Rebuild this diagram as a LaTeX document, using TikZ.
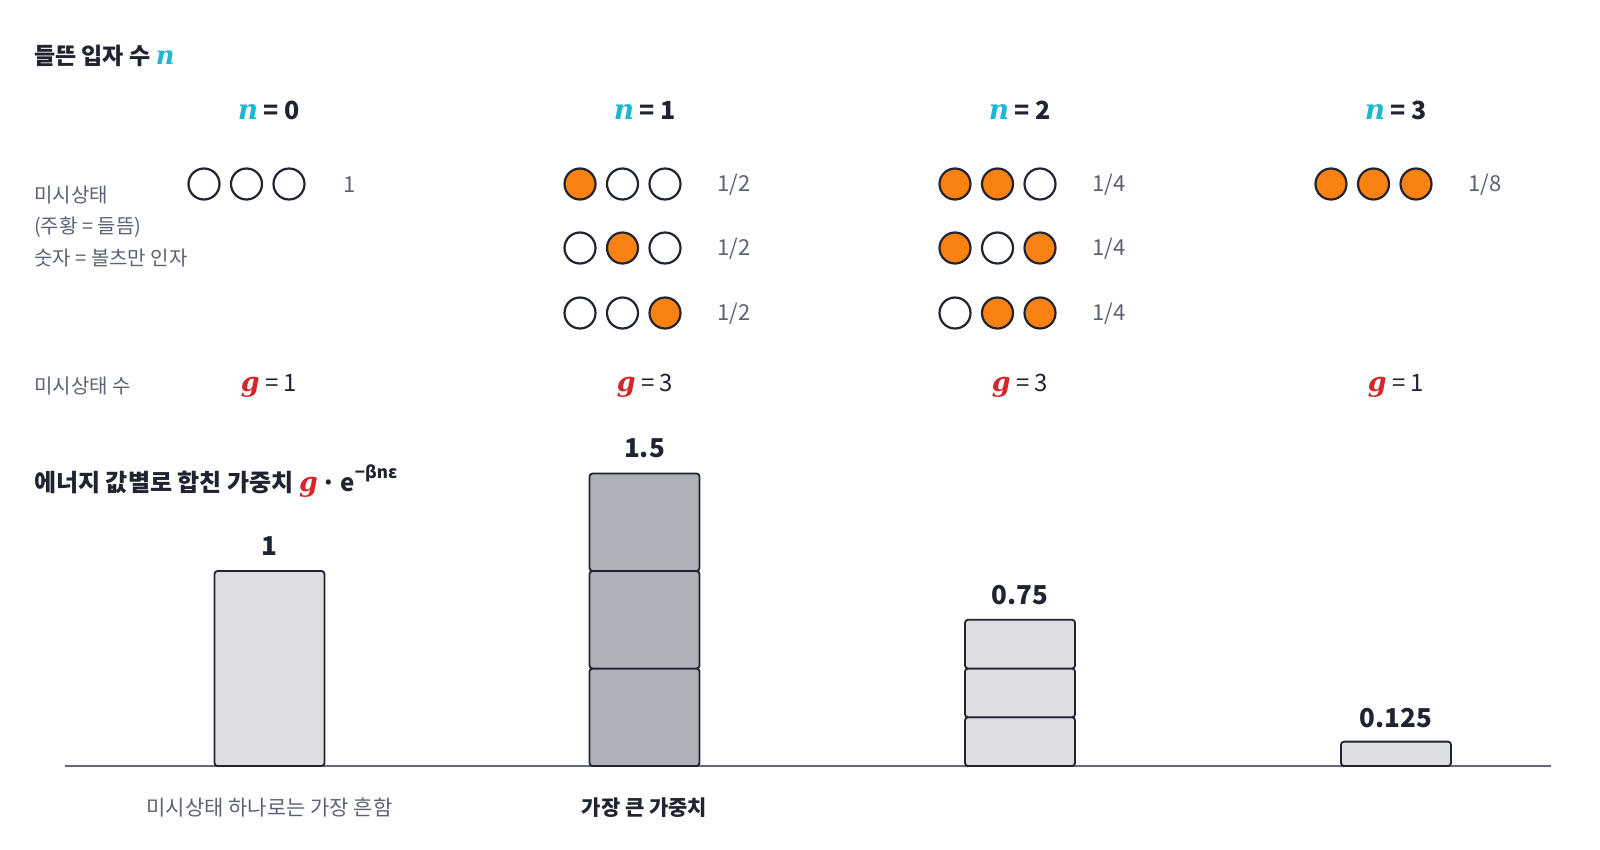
\documentclass[tikz,border=0pt]{standalone}
\usepackage{fontspec}
\setmainfont{Noto Sans CJK KR}
\newfontfamily\varfont{DejaVu Serif}[Scale=1.12]
\definecolor{darkT}{HTML}{1F2430}
\definecolor{grayT}{HTML}{5B6272}
\definecolor{tealV}{HTML}{1EB8CE}
\definecolor{redV}{HTML}{D62728}
\definecolor{orangeF}{HTML}{F98213}
\definecolor{barL}{HTML}{DDDEE2}
\definecolor{barD}{HTML}{ADB1B9}
\definecolor{axisC}{HTML}{646A78}
\newcommand\nvar{{\varfont\bfseries\itshape\color{tealV}n}}
\newcommand\gvar{{\varfont\bfseries\itshape\color{redV}g}}
\begin{document}
\begin{tikzpicture}[x=1pt,y=-1pt,
  head/.style={inner sep=0, anchor=west, text=darkT, font=\fontsize{23}{27}\selectfont\bfseries},
  nlab/.style={inner sep=0, text=darkT, font=\fontsize{25}{29}\selectfont\bfseries},
  side/.style={inner sep=0, anchor=west, text=grayT, font=\fontsize{20}{24}\selectfont},
  prob/.style={inner sep=0, anchor=west, text=grayT, font=\fontsize{22}{26}\selectfont},
  glab/.style={inner sep=0, text=darkT, font=\fontsize{24}{28}\selectfont},
  val/.style={inner sep=0, text=darkT, font=\fontsize{26}{30}\selectfont\bfseries},
  foot/.style={inner sep=0, text=grayT, font=\fontsize{21}{25}\selectfont},
  circ/.style={circle, draw=darkT, line width=2.2pt, minimum size=31pt, inner sep=0, fill=white},
  on/.style={circ, fill=orangeF},
  off/.style={circ},
  barbox/.style={draw=darkT, line width=1.8pt, rounded corners=3pt, minimum width=110pt, inner sep=0, outer sep=0, anchor=south},
]
\useasboundingbox (0,0) rectangle (1600,849);

% title
\node[head] (title) at (34,56) {들뜬 입자 수 \nvar};

% n labels
\node[nlab] (n0) at (269,110) {\nvar\ = 0};
\node[nlab] (n1) at (645,110) {\nvar\ = 1};
\node[nlab] (n2) at (1020,110) {\nvar\ = 2};
\node[nlab] (n3) at (1396,110) {\nvar\ = 3};

% side labels
\node[side] (s1) at (34,195) {미시상태};
\node[side] (s2) at (34,227) {(주황 = 들뜸)};
\node[side] (s3) at (34,258) {숫자 = 볼츠만 인자};
\node[side] (s4) at (34,386) {미시상태 수};

% microstates
% column 0
\node[off] (c0r1a) at (204,184) {};
\node[off] (c0r1b) at (246.5,184) {};
\node[off] (c0r1c) at (289,184) {};
\node[prob] (p0r1) at (343,185) {1};
% column 1
\node[on]  (c1r1a) at (580,184) {};
\node[off] (c1r1b) at (622.5,184) {};
\node[off] (c1r1c) at (665,184) {};
\node[prob] (p1r1) at (717,185) {1/2};
\node[off] (c1r2a) at (580,248) {};
\node[on]  (c1r2b) at (622.5,248) {};
\node[off] (c1r2c) at (665,248) {};
\node[prob] (p1r2) at (717,249) {1/2};
\node[off] (c1r3a) at (580,313) {};
\node[off] (c1r3b) at (622.5,313) {};
\node[on]  (c1r3c) at (665,313) {};
\node[prob] (p1r3) at (717,314) {1/2};
% column 2
\node[on]  (c2r1a) at (955,184) {};
\node[on]  (c2r1b) at (997.5,184) {};
\node[off] (c2r1c) at (1040,184) {};
\node[prob] (p2r1) at (1092,185) {1/4};
\node[on]  (c2r2a) at (955,248) {};
\node[off] (c2r2b) at (997.5,248) {};
\node[on]  (c2r2c) at (1040,248) {};
\node[prob] (p2r2) at (1092,249) {1/4};
\node[off] (c2r3a) at (955,313) {};
\node[on]  (c2r3b) at (997.5,313) {};
\node[on]  (c2r3c) at (1040,313) {};
\node[prob] (p2r3) at (1092,314) {1/4};
% column 3
\node[on] (c3r1a) at (1331,184) {};
\node[on] (c3r1b) at (1373.5,184) {};
\node[on] (c3r1c) at (1416,184) {};
\node[prob] (p3r1) at (1468,185) {1/8};

% g labels
\node[glab] (g0) at (269,386) {\gvar\ = 1};
\node[glab] (g1) at (645,386) {\gvar\ = 3};
\node[glab] (g2) at (1020,386) {\gvar\ = 3};
\node[glab] (g3) at (1396,386) {\gvar\ = 1};

% weight title
\node[head, font=\fontsize{24}{28}\selectfont\bfseries] (wt) at (34,481) {에너지 값별로 합친 가중치 \gvar\,·\,e\raisebox{0.55em}{\fontsize{17}{19}\selectfont −βnε}};

% axis
\coordinate (axL) at (65,766);
\coordinate (axR) at (1551,766);
\draw[axisC, line width=1.8pt] (axL) -- (axR);

% bars (unit = 195)
\node[barbox, fill=barL, minimum height=195pt] (b0) at (269.5,766) {};
\node[barbox, fill=barD, minimum height=97.5pt] (b1a) at (644.5,766) {};
\node[barbox, fill=barD, minimum height=97.5pt] (b1b) at (b1a.north) {};
\node[barbox, fill=barD, minimum height=97.5pt] (b1c) at (b1b.north) {};
\node[barbox, fill=barL, minimum height=48.75pt] (b2a) at (1020,766) {};
\node[barbox, fill=barL, minimum height=48.75pt] (b2b) at (b2a.north) {};
\node[barbox, fill=barL, minimum height=48.75pt] (b2c) at (b2b.north) {};
\node[barbox, fill=barL, minimum height=24.4pt] (b3) at (1396,766) {};

% values
\node[val] (v0) at (269.5,546) {1};
\node[val] (v1) at (644.5,448) {1.5};
\node[val] (v2) at (1020,595) {0.75};
\node[val] (v3) at (1396,718) {0.125};

% footers
\node[foot] (f0) at (269.5,808) {미시상태 하나로는 가장 흔함};
\node[foot, text=darkT, font=\fontsize{21}{25}\selectfont\bfseries] (f1) at (644.5,808) {가장 큰 가중치};
\end{tikzpicture}
\end{document}
